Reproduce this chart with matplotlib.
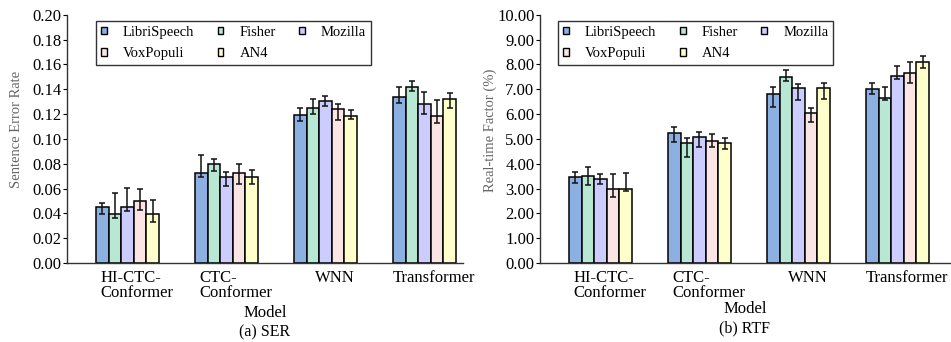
import numpy as np
import matplotlib
matplotlib.use("Agg")
import matplotlib.pyplot as plt
from matplotlib.patches import Patch

plt.rcParams["font.family"] = ["Liberation Serif", "DejaVu Serif"]

models = ["HI-CTC-\nConformer", "CTC-\nConformer", "WNN", "Transformer"]
datasets = ["LibriSpeech", "Fisher", "Mozilla", "VoxPopuli", "AN4"]
colors = ["#8DB0E2", "#B8E8D4", "#CCCCFF", "#FBE4E4", "#FFFFCC"]

# sentence error rate, per dataset across the 4 models
ser = {
    "LibriSpeech": [0.0454, 0.0725, 0.1190, 0.1340],
    "Fisher":      [0.0395, 0.0797, 0.1248, 0.1420],
    "Mozilla":     [0.0454, 0.0695, 0.1307, 0.1280],
    "VoxPopuli":   [0.0497, 0.0725, 0.1243, 0.1184],
    "AN4":         [0.0395, 0.0690, 0.1187, 0.1323],
}
ser_lo = {
    "LibriSpeech": [0.0395, 0.0695, 0.1146, 0.1290],
    "Fisher":      [0.0365, 0.0744, 0.1200, 0.1388],
    "Mozilla":     [0.0420, 0.0623, 0.1264, 0.1200],
    "VoxPopuli":   [0.0430, 0.0640, 0.1150, 0.1130],
    "AN4":         [0.0328, 0.0640, 0.1157, 0.1246],
}
ser_hi = {
    "LibriSpeech": [0.0481, 0.0870, 0.1246, 0.1417],
    "Fisher":      [0.0560, 0.0840, 0.1320, 0.1463],
    "Mozilla":     [0.0607, 0.0730, 0.1348, 0.1380],
    "VoxPopuli":   [0.0600, 0.0797, 0.1283, 0.1310],
    "AN4":         [0.0505, 0.0746, 0.1230, 0.1370],
}

# real-time factor (%)
rtf = {
    "LibriSpeech": [3.45, 5.25, 6.79, 7.02],
    "Fisher":      [3.50, 4.82, 7.50, 6.66],
    "Mozilla":     [3.40, 5.07, 7.06, 7.52],
    "VoxPopuli":   [2.99, 4.91, 6.05, 7.64],
    "AN4":         [2.99, 4.82, 7.06, 8.11],
}
rtf_lo = {
    "LibriSpeech": [3.22, 4.89, 6.27, 6.79],
    "Fisher":      [3.13, 4.28, 7.33, 6.56],
    "Mozilla":     [3.19, 4.68, 6.58, 7.41],
    "VoxPopuli":   [2.67, 4.68, 5.68, 7.23],
    "AN4":         [2.89, 4.58, 6.59, 7.84],
}
rtf_hi = {
    "LibriSpeech": [3.65, 5.49, 7.10, 7.25],
    "Fisher":      [3.85, 5.02, 7.79, 7.10],
    "Mozilla":     [3.60, 5.29, 7.22, 7.93],
    "VoxPopuli":   [3.60, 5.21, 6.26, 8.09],
    "AN4":         [3.61, 5.03, 7.23, 8.34],
}


def draw_panel(ax, vals, lo, hi, ylim, step, ylabel, xright, caption,
               ylab_x, leg_x, model_y, cap_y):
    x = np.arange(len(models))
    width = 0.127
    for i, name in enumerate(datasets):
        off = (i - 2) * width
        v = np.array(vals[name])
        err = [v - np.array(lo[name]), np.array(hi[name]) - v]
        ax.bar(x + off, v, width, color=colors[i], edgecolor="black",
               linewidth=1.1, zorder=2)
        ax.errorbar(x + off, v, yerr=err, fmt="none", ecolor="#111111",
                    elinewidth=1.1, capsize=2.5, capthick=1.1, zorder=3)
    ax.set_xlim(-0.61, xright)
    ax.set_ylim(*ylim)
    ax.set_yticks(np.arange(ylim[0], ylim[1] + step / 2, step))
    ax.yaxis.set_major_formatter(matplotlib.ticker.FormatStrFormatter("%.2f"))
    ax.set_xticks(x + 0.1)
    ax.set_xticklabels(models, fontsize=12, multialignment="left",
                       linespacing=0.95)
    ax.tick_params(axis="x", length=0, pad=5)
    ax.tick_params(axis="y", direction="out", length=3, labelsize=12, pad=1)
    for s in ["top", "right"]:
        ax.spines[s].set_visible(False)
    for s in ["left", "bottom"]:
        ax.spines[s].set_color("#333333")
        ax.spines[s].set_linewidth(1.0)
    ax.set_ylabel(ylabel, fontsize=10.5, color="#666666")
    ax.yaxis.set_label_coords(ylab_x, 0.536)
    ax.text(0.5, model_y, "Model", transform=ax.transAxes, ha="center",
            va="center", fontsize=12)
    ax.text(0.5, cap_y, caption, transform=ax.transAxes, ha="center",
            va="center", fontsize=11.5)
    handles = [Patch(facecolor=c, edgecolor="black", linewidth=1.0) for c in colors]
    # row-wise legend order (3 columns)
    order = [0, 3, 1, 4, 2]
    leg = ax.legend([handles[k] for k in order], [datasets[k] for k in order],
                    ncol=3, loc="upper left", bbox_to_anchor=(leg_x, 0.975),
                    borderaxespad=0, fontsize=10.5, frameon=True,
                    fancybox=False, handlelength=0.4, handleheight=0.4,
                    columnspacing=1.6, handletextpad=1.1, borderpad=0.35,
                    labelspacing=0.55)
    leg.get_frame().set_edgecolor("black")
    leg.get_frame().set_linewidth(1.0)


fig = plt.figure(figsize=(9.51, 3.42), dpi=100)
ax1 = fig.add_axes([0.0705, 0.231, 0.4164, 0.726])
ax2 = fig.add_axes([0.5678, 0.231, 0.4311, 0.726])

draw_panel(ax1, ser, ser_lo, ser_hi, (0, 0.20), 0.02,
           "Sentence Error Rate", 3.39, "(a) SER",
           -0.112, 0.073, -0.201, -0.278)
draw_panel(ax2, rtf, rtf_lo, rtf_hi, (0, 10.0), 1.0,
           "Real-time Factor (%)", 3.53, "(b) RTF",
           -0.104, 0.044, -0.185, -0.262)

fig.savefig("out.png", dpi=100)
